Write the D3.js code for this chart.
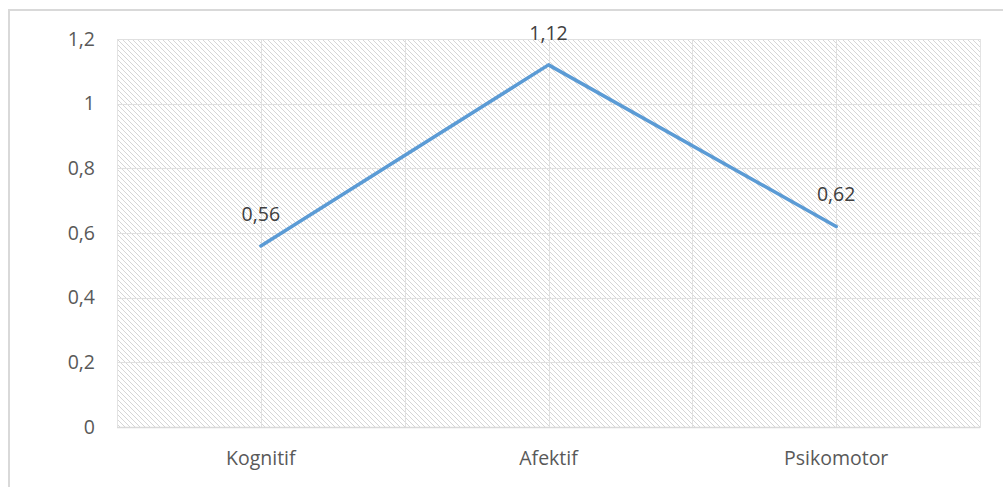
<!DOCTYPE html>
<html><head><meta charset="utf-8">
<script src="https://d3js.org/d3.v7.min.js"></script>
<style>body{margin:0;background:#fff}svg{display:block}</style>
</head><body>
<script>
const categories = ["Kognitif", "Afektif", "Psikomotor"];
const values = [0.56, 1.12, 0.62];
const yTicks = [0, 0.2, 0.4, 0.6, 0.8, 1, 1.2];
const labels = ["0,56", "1,12", "0,62"];

const W = 1003, H = 487;
const svg = d3.select("body").append("svg").attr("width", W).attr("height", H);
const m = {l: 117, r: 980, t: 39, b: 427};
const font = "'Open Sans', sans-serif";
const FS = 19.5;

// pattern
const defs = svg.append("defs");
const P = 5;
const pat = defs.append("pattern").attr("id", "hatch").attr("patternUnits", "userSpaceOnUse")
  .attr("width", P).attr("height", P).attr("x", m.l).attr("y", m.t);
for (let i = 0; i < P; i++) pat.append("rect").attr("x", i).attr("y", i).attr("width", 1).attr("height", 1).attr("fill", "#d6d6d6");

// outer border
svg.append("rect").attr("x", 9).attr("y", 10).attr("width", W).attr("height", H).attr("fill", "none")
  .attr("stroke", "#d9d9d9").attr("stroke-width", 2);

const x = d3.scaleBand().domain(categories).range([m.l, m.r]).padding(0);
const y = d3.scaleLinear().domain([0, 1.2]).range([m.b, m.t]);

svg.append("rect").attr("x", m.l).attr("y", m.t).attr("width", m.r - m.l).attr("height", m.b - m.t)
  .attr("fill", "url(#hatch)").attr("stroke", "#e3e3e3").attr("stroke-width", 1).attr("shape-rendering", "crispEdges");

// horizontal gridlines
svg.append("g").selectAll("line").data(yTicks.filter(d => d > 0)).join("line")
  .attr("x1", m.l).attr("x2", m.r).attr("y1", d => Math.round(y(d)) + 0.5).attr("y2", d => Math.round(y(d)) + 0.5)
  .attr("stroke", "#e0e0e0").attr("stroke-width", 1);
// vertical gridlines: boundaries and centers
const vx = [];
categories.forEach((c, i) => { if (i > 0) vx.push(x(c)); vx.push(x(c) + x.bandwidth() / 2); });
svg.append("g").selectAll("line").data(vx).join("line")
  .attr("x1", d => Math.round(d) + 0.5).attr("x2", d => Math.round(d) + 0.5).attr("y1", m.t).attr("y2", m.b)
  .attr("stroke", "#e0e0e0").attr("stroke-width", 1);
// axis line
svg.append("line").attr("x1", m.l).attr("x2", m.r).attr("y1", m.b + 0.5).attr("y2", m.b + 0.5)
  .attr("stroke", "#d9d9d9").attr("stroke-width", 1.5);

// y axis labels
const fmt = d => String(d).replace(".", ",");
svg.append("g").selectAll("text").data(yTicks).join("text")
  .attr("x", 95).attr("y", d => y(d)).attr("dy", "0.35em").attr("text-anchor", "end")
  .attr("font-family", font).attr("font-size", FS).attr("fill", "#595959").text(fmt);

// x labels
svg.append("g").selectAll("text").data(categories).join("text")
  .attr("x", d => x(d) + x.bandwidth() / 2).attr("y", 458).attr("dy", "0.35em").attr("text-anchor", "middle")
  .attr("font-family", font).attr("font-size", FS).attr("fill", "#595959").text(d => d);

// line
const pts = categories.map((c, i) => [x(c) + x.bandwidth() / 2, y(values[i])]);
svg.append("path").datum(pts).attr("d", d3.line()).attr("fill", "none")
  .attr("stroke", "#5b9bd5").attr("stroke-width", 3.5).attr("stroke-linecap", "round").attr("stroke-linejoin", "round");

// data labels
svg.append("g").selectAll("text").data(pts).join("text")
  .attr("x", d => d[0]).attr("y", d => d[1] - 32).attr("dy", "0.35em").attr("text-anchor", "middle")
  .attr("font-family", font).attr("font-size", FS).attr("fill", "#404040").text((d, i) => labels[i]);
</script>
</body></html>
